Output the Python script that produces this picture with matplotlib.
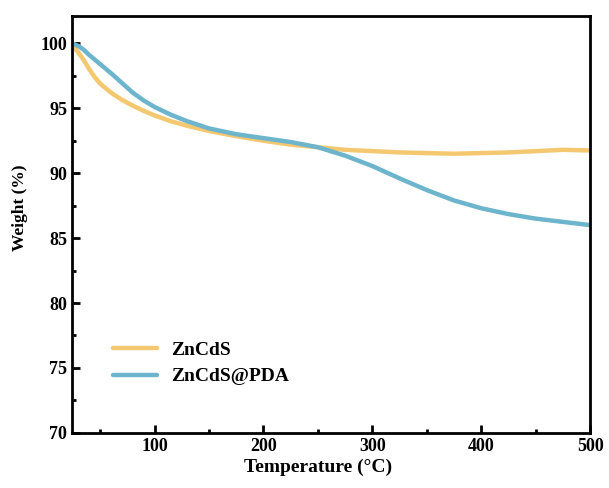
import matplotlib.pyplot as plt
from matplotlib.ticker import MultipleLocator

plt.rcParams['font.family'] = ['Liberation Serif', 'DejaVu Serif']
plt.rcParams['font.weight'] = 'bold'

# temperature (C)
temp = [24, 30, 35, 40, 45, 50, 60, 70, 80, 90, 100, 115, 130, 150, 175, 200, 225, 250,
        275, 300, 325, 350, 375, 400, 425, 450, 475, 500]
zncds = [99.9, 99.3, 98.7, 98.0, 97.4, 96.9, 96.2, 95.65, 95.2, 94.8, 94.45, 94.0, 93.65, 93.25,
         92.85, 92.5, 92.2, 92.0, 91.8, 91.7, 91.6, 91.55, 91.5, 91.55, 91.6, 91.7, 91.8, 91.75]
zncds_pda = [100.0, 99.8, 99.5, 99.1, 98.75, 98.4, 97.7, 96.95, 96.2, 95.6, 95.1, 94.5, 94.0, 93.45,
             93.0, 92.7, 92.4, 92.0, 91.35, 90.55, 89.6, 88.7, 87.9, 87.3, 86.85, 86.5, 86.25, 86.0]

fig, ax = plt.subplots(figsize=(6.09, 4.88), dpi=100)
fig.subplots_adjust(left=0.118, right=0.969, top=0.967, bottom=0.113)

ax.plot(temp, zncds, color='#F3C870', lw=3.2, label='ZnCdS', solid_capstyle='round')
ax.plot(temp, zncds_pda, color='#6DB4CD', lw=3.2, label='ZnCdS@PDA', solid_capstyle='round')

ax.set_xlim(24, 500)
ax.set_ylim(70, 102.1)
ax.xaxis.set_major_locator(MultipleLocator(100))
ax.xaxis.set_minor_locator(MultipleLocator(50))
ax.yaxis.set_major_locator(MultipleLocator(5))
ax.yaxis.set_minor_locator(MultipleLocator(2.5))
ax.tick_params(which='both', direction='in', width=2, labelsize=13)
ax.tick_params(which='major', length=6)
ax.tick_params(which='minor', length=3)
for s in ax.spines.values():
    s.set_linewidth(2)

ax.set_xlabel('Temperature (°C)', fontsize=14, fontweight='bold')
ax.set_ylabel('Weight (%)', fontsize=12.5, fontweight='bold')
ax.xaxis.set_label_coords(0.475, -0.062)
ax.yaxis.set_label_coords(-0.085, 0.54)

ax.legend(loc='lower left', bbox_to_anchor=(0.045, 0.072), frameon=False, fontsize=14,
          handlelength=2.3, handletextpad=0.7, labelspacing=0.45)

fig.savefig('out.png')
